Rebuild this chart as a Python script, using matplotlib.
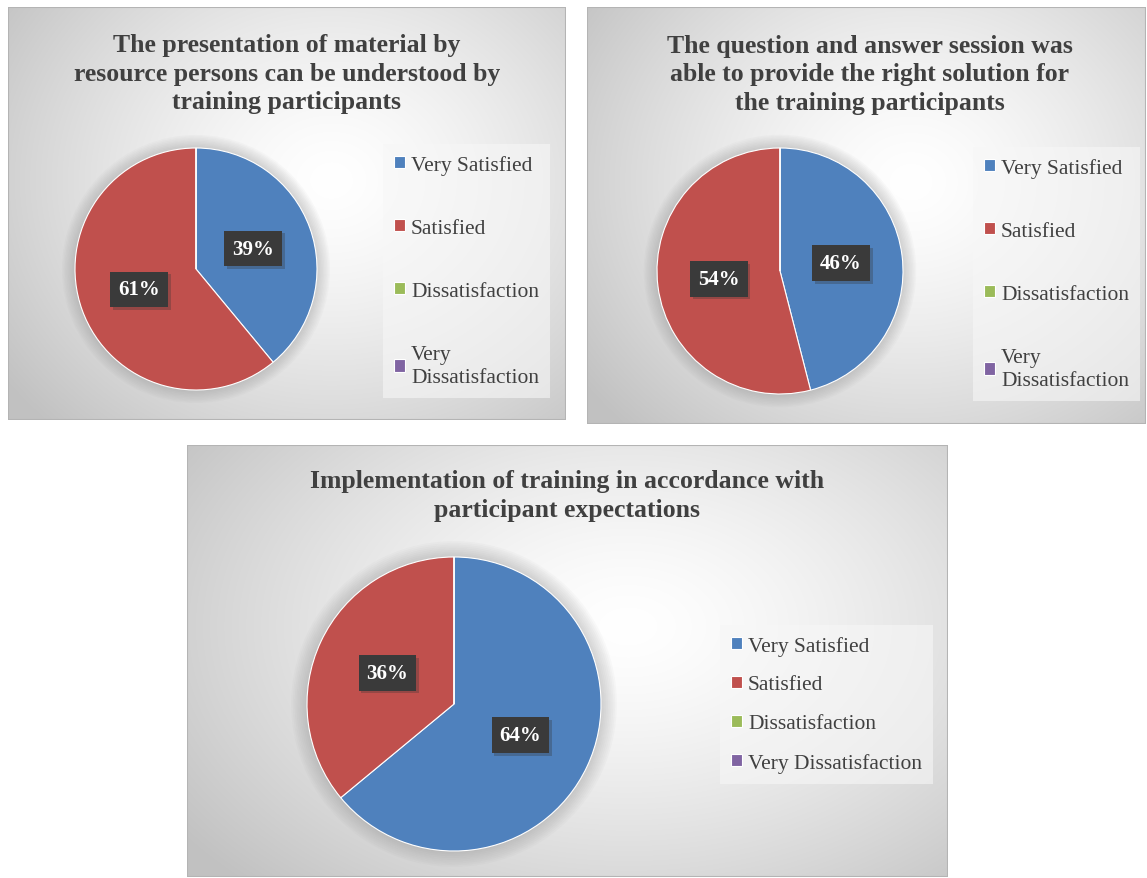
import numpy as np
import matplotlib
matplotlib.use("Agg")
import matplotlib.pyplot as plt
import matplotlib.patheffects as pe
from matplotlib.patches import Circle, Rectangle

plt.rcParams['font.family'] = ['Liberation Serif', 'DejaVu Serif']

W, H = 1147, 879

# survey answers (percent of participants)
categories = ['Very Satisfied', 'Satisfied', 'Dissatisfaction', 'Very Dissatisfaction']
material_values = [39, 61, 0, 0]
qa_values = [46, 54, 0, 0]
expectation_values = [64, 36, 0, 0]

titles = [
    'The presentation of material by\nresource persons can be understood by\ntraining participants',
    'The question and answer session was\nable to provide the right solution for\nthe training participants',
    'Implementation of training in accordance with\nparticipant expectations',
]

colors = ['#4f81bd', '#c0504d', '#9bbb59', '#8064a2']
text_gray = '#404040'


def fx(x):
    return x / W


def fy(y):
    return 1 - y / H


def rect(x0, y0, x1, y1):
    return [fx(x0), fy(y1), (x1 - x0) / W, (y1 - y0) / H]


def panel_background(fig, box):
    x0, y0, x1, y1 = box
    ax = fig.add_axes(rect(x0, y0, x1, y1), zorder=0)
    w, h = int(x1 - x0), int(y1 - y0)
    xx, yy = np.meshgrid(np.linspace(0, 1, w), np.linspace(0, 1, h))
    d = np.sqrt(((xx - 0.58) / 1.0) ** 2 + ((yy - 0.42) / 1.15) ** 2)
    g = 1.0 - 0.24 * np.clip(d / 0.72, 0, 1) ** 1.4
    img = np.dstack([g, g, g])
    ax.imshow(img, extent=[0, 1, 0, 1], aspect='auto', interpolation='bilinear')
    ax.add_patch(Rectangle((0, 0), 1, 1, transform=ax.transAxes, fill=False,
                           ec='#b4b4b4', lw=1.5))
    ax.set_xlim(0, 1)
    ax.set_ylim(0, 1)
    ax.axis('off')


def draw_pie(fig, values, center, r, legend_box, legend_labels, spacing):
    cx, cy = center
    s = 1.25 * r
    ax = fig.add_axes(rect(cx - s, cy - s, cx + s, cy + s), zorder=2)
    ax.patch.set_alpha(0)

    # soft halo behind the pie
    for k in range(10):
        ax.add_patch(Circle((0, 0), 1.0 + 0.012 * k, fc='#7a7a7a', ec='none',
                            alpha=0.035, zorder=0))

    wedges, _, autotexts = ax.pie(
        values, colors=colors, startangle=90, counterclock=False,
        autopct=lambda p: '%.0f%%' % p if p > 0 else '', pctdistance=0.5,
        wedgeprops=dict(edgecolor='white', linewidth=0.8, zorder=1),
        textprops=dict(color='white', fontsize=15, fontweight='bold'))
    for t in autotexts:
        if not t.get_text():
            continue
        t.set_bbox(dict(boxstyle='square,pad=0.38', fc='#3a3a3a', ec='none'))
        t.get_bbox_patch().set_path_effects([
            pe.SimplePatchShadow(offset=(2, -2), shadow_rgbFace='#333333', alpha=0.3),
            pe.Normal()])
        t.set_zorder(5)
    ax.set_xlim(-1.25, 1.25)
    ax.set_ylim(-1.25, 1.25)

    lx, ly = legend_box
    leg = ax.legend(wedges, legend_labels, loc='upper left',
                    bbox_to_anchor=(fx(lx), fy(ly)), bbox_transform=fig.transFigure,
                    fontsize=15.5, frameon=True, fancybox=False, borderaxespad=0,
                    borderpad=0.5, handlelength=0.5, handleheight=0.5,
                    handletextpad=0.3, labelspacing=spacing, labelcolor=text_gray)
    for t in leg.get_texts():
        t.set_linespacing(1.3)
    frame = leg.get_frame()
    frame.set_facecolor('#f7f7f7')
    frame.set_alpha(0.6)
    frame.set_edgecolor('none')
    return ax


fig = plt.figure(figsize=(W / 100, H / 100), dpi=100, facecolor='white')

panels = [(8, 8, 566, 421), (587, 8, 1146, 425), (187, 446, 948, 878)]
for box in panels:
    panel_background(fig, box)

wrapped = ['Very Satisfied', 'Satisfied', 'Dissatisfaction', 'Very\nDissatisfaction']

draw_pie(fig, material_values, (196, 270), 121, (383, 145), wrapped, 2.05)
draw_pie(fig, qa_values, (780, 272), 123, (973, 148), wrapped, 2.05)
draw_pie(fig, expectation_values, (454, 705), 147, (720, 626), categories, 0.92)

title_pos = [(287, 74), (870, 75), (567, 496)]
for (tx, ty), title in zip(title_pos, titles):
    fig.text(fx(tx), fy(ty), title, ha='center', va='center', fontsize=18.5,
             fontweight='bold', color=text_gray, linespacing=1.28, zorder=3)

fig.savefig('out.png', dpi=100, facecolor='white')
